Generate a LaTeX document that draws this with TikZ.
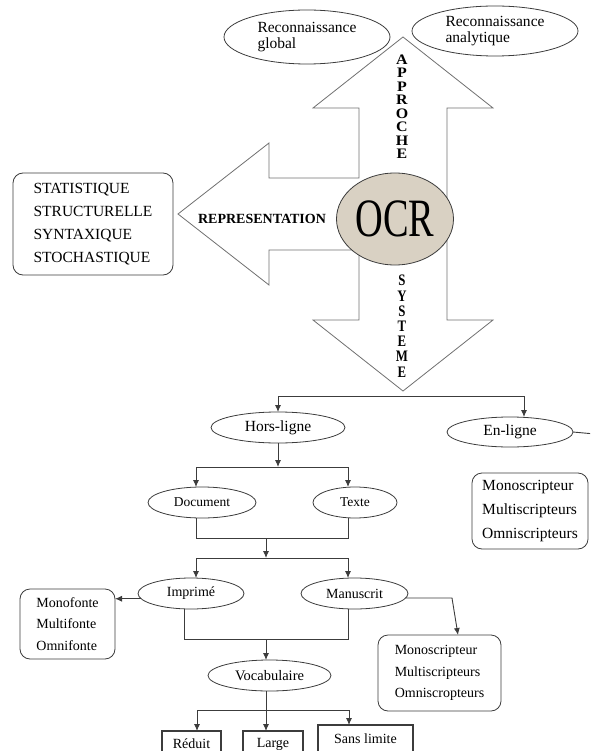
\documentclass[tikz,border=0pt]{standalone}
\usepackage{fontspec}
\usepackage{graphicx}
\setmainfont{Liberation Serif}
\usetikzlibrary{arrows.meta,calc,shapes.geometric}
\definecolor{edge}{HTML}{3C3C3C}
\definecolor{outline}{HTML}{707070}
\definecolor{ocrfill}{HTML}{D9D1C3}

\begin{document}
\begin{tikzpicture}[x=1pt,y=-1pt,
  every node/.style={inner sep=0pt, outer sep=0pt},
  oval/.style={ellipse, draw=edge, line width=0.8pt, fill=white},
  listbox/.style={draw=edge, line width=0.8pt, rounded corners=10pt, align=left},
  leafbox/.style={draw=edge, line width=1.1pt},
  link/.style={draw=edge, line width=0.9pt},
  tip/.style={link, -{Latex[length=7pt,width=6pt]}},
  bigarrow/.style={draw=outline, line width=0.8pt, fill=white, line join=miter},
  txtA/.style={font=\fontsize{15.5}{16.5}\selectfont},
  txtB/.style={font=\fontsize{14}{16}\selectfont},
  txtC/.style={font=\fontsize{13.5}{15}\selectfont}
]
\path[use as bounding box] (0,0) rectangle (590,751);
\clip (0,0) rectangle (590,751);

% the three block arrows around the OCR hub
\draw[bigarrow] (359,178) -- (359,108) -- (313,108) -- (403,37) -- (493,108)
  -- (447,108) -- (447,320) -- (493,320) -- (403,391) -- (313,320) -- (359,320)
  -- (359,250) -- (269,250) -- (269,285) -- (178,214) -- (269,143) -- (269,178) -- cycle;

% recognition approaches
\node[oval, txtA, align=left, minimum width=166pt, minimum height=54pt] (glob) at (307,37)
  {Reconnaissance\\global};
\node[oval, txtA, align=left, minimum width=166pt, minimum height=50pt] (anal) at (495,31)
  {Reconnaissance\\analytique};

% hub
\node[ellipse, draw=edge, line width=0.8pt, fill=ocrfill, minimum width=117pt, minimum height=92pt] (ocr) at (395,219)
  {\scalebox{0.71}[1]{\fontsize{54}{54}\selectfont OCR}};

% arrow labels
\node[font=\bfseries\fontsize{14.5}{13.2}\selectfont] (appr) at (402,108.7)
  {\scalebox{1.1}[1]{\begin{tabular}{@{}c@{}}A\\P\\P\\R\\O\\C\\H\\E\end{tabular}}};
\node[font=\bfseries\fontsize{16}{15.2}\selectfont] (syst) at (402,328.5)
  {\scalebox{0.8}[1]{\begin{tabular}{@{}c@{}}S\\Y\\S\\T\\E\\M\\E\end{tabular}}};
\node[font=\bfseries\fontsize{14}{16}\selectfont] (repr) at (262,219) {REPRESENTATION};

% representation kinds
\node[listbox, font=\fontsize{15.5}{23}\selectfont, minimum width=160pt, minimum height=102pt] (stat) at (93,224)
  {STATISTIQUE\\STRUCTURELLE\\SYNTAXIQUE\\STOCHASTIQUE};

% system branch
\coordinate (sysL) at (278,396);
\coordinate (sysR) at (524,396);
\node[oval, txtA, minimum width=134pt, minimum height=31pt] (hors) at (278,427.5) {Hors-ligne};
\node[oval, txtA, minimum width=126pt, minimum height=30pt] (enl) at (510,432) {En-ligne};
\coordinate (enlout) at (595,434);
\node[listbox, font=\fontsize{15.5}{24}\selectfont, minimum width=116pt, minimum height=76pt] (mono1) at (530,511)
  {Monoscripteur\\Multiscripteurs\\Omniscripteurs};

\draw[link] (sysL) -- (sysR);
\draw[tip] (sysL) -- (hors.north);
\draw[tip] (sysR) -- (sysR |- enl.north);
\draw[link] (enl.east) -- (enlout);

% document / text
\node[oval, txtC, minimum width=108pt, minimum height=31pt] (doc) at (202,502.5) {Document};
\node[oval, txtC, minimum width=84pt, minimum height=31pt] (txt) at (355,502.5) {Texte};
\coordinate (hb) at (278,467);
\coordinate (hbL) at (196,467);
\coordinate (hbR) at (348,467);
\draw[tip] (hors.south) -- (hb);
\draw[link] (hbL) -- (hbR);
\draw[tip] (hbL) -- (hbL |- doc.north);
\draw[tip] (hbR) -- (hbR |- txt.north);

\coordinate (dbL) at (196,538);
\coordinate (dbR) at (348,538);
\coordinate (db) at (266,538);
\coordinate (ib) at (266,558);
\coordinate (ibL) at (196,558);
\coordinate (ibR) at (348,558);
\draw[link] (hbL |- doc.south) -- (dbL) -- (dbR) -- (hbR |- txt.south);
\draw[tip] (db) -- (ib);
\draw[link] (ibL) -- (ibR);

% printed / handwritten
\node[oval, txtB, minimum width=106pt, minimum height=31pt] (imp) at (191,593.5) {Imprimé};
\node[oval, txtB, minimum width=107pt, minimum height=31pt] (man) at (354.5,593.5) {Manuscrit};
\draw[tip] (ibL) -- (ibL |- imp.north);
\draw[tip] (ibR) -- (ibR |- man.north);

\node[listbox, font=\fontsize{14}{21.5}\selectfont, minimum width=95pt, minimum height=70pt] (mf) at (67.5,624)
  {Monofonte\\Multifonte\\Omnifonte};
\draw[tip] (imp.186) -- (imp.186 -| mf.east);

\node[listbox, font=\fontsize{14}{21.5}\selectfont, minimum width=123pt, minimum height=76pt] (mono2) at (439.5,673)
  {Monoscripteur\\Multiscripteurs\\Omniscropteurs};
\coordinate (mcorner) at (452,598);
\draw[tip] (man.-5) -- (mcorner) -- ($(mono2.north)+(18.5,0)$);

% vocabulary
\node[oval, font=\fontsize{14.5}{16}\selectfont, minimum width=123pt, minimum height=31pt] (voc) at (269.5,675.5) {Vocabulaire};
\coordinate (vbL) at (184,639);
\coordinate (vbR) at (348,639);
\coordinate (vb) at (266,639);
\draw[link] (vbL |- imp.south) -- (vbL) -- (vbR) -- (vbR |- man.south);
\draw[tip] (vb) -- (vb |- voc.north);

\node[leafbox, txtB, minimum width=59pt, minimum height=26pt] (red) at (191.5,744) {Réduit};
\node[leafbox, txtB, minimum width=60pt, minimum height=26pt] (large) at (273,744) {Large};
\node[leafbox, txtB, minimum width=95pt, minimum height=28pt] (sans) at (365.5,739) {Sans limite};
\coordinate (lb) at (266,710);
\coordinate (lbL) at (197,710);
\coordinate (lbR) at (349,710);
\draw[tip] (lb |- voc.south) -- (lb |- large.north);
\draw[link] (lbL) -- (lbR);
\draw[tip] (lbL) -- (lbL |- red.north);
\draw[tip] (lbR) -- (lbR |- sans.north);
\end{tikzpicture}
\end{document}
